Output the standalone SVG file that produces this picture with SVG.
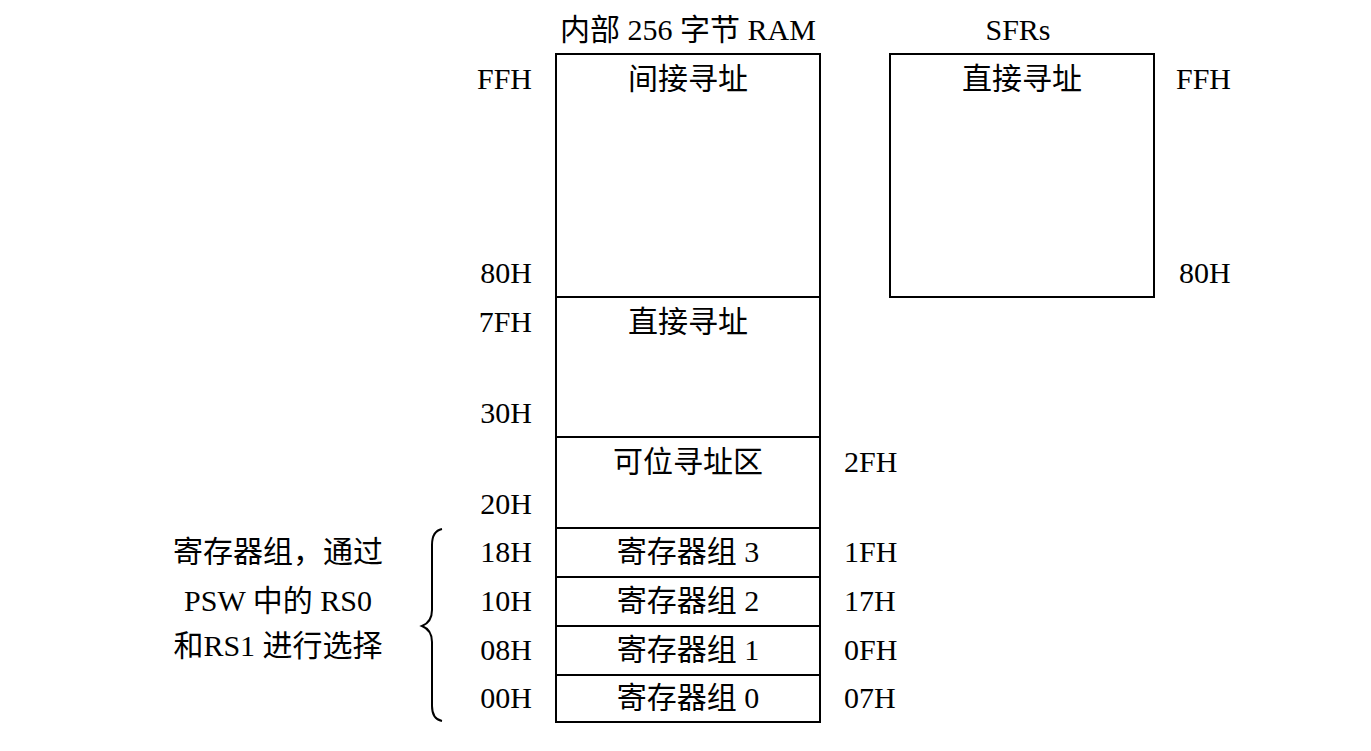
<svg xmlns="http://www.w3.org/2000/svg" width="1371" height="751" viewBox="0 0 1371 751">
<style>
text{font-family:"Liberation Serif","Noto Sans CJK SC",serif;font-size:30px;fill:#000}
.e{text-anchor:end}.m{text-anchor:middle}.s{text-anchor:start}
.b{fill:none;stroke:#000;stroke-width:2}
</style>
<rect width="1371" height="751" fill="#fff"/>
<g id="ram">
<rect class="b" x="556" y="54" width="264" height="668"/>
<path class="b" d="M556 297H820M556 437H820M556 528H820M556 577H820M556 626H820M556 675H820"/>
<text class="m" x="688" y="40">内部 256 字节 RAM</text>
<text class="m" x="688" y="89">间接寻址</text>
<text class="m" x="688" y="332">直接寻址</text>
<text class="m" x="688" y="472">可位寻址区</text>
<text class="m" x="688" y="562">寄存器组 3</text>
<text class="m" x="688" y="611">寄存器组 2</text>
<text class="m" x="688" y="660">寄存器组 1</text>
<text class="m" x="688" y="708">寄存器组 0</text>
</g>
<g id="sfr">
<rect class="b" x="890" y="54" width="264" height="243"/>
<text class="m" x="1018" y="40">SFRs</text>
<text class="m" x="1022" y="89">直接寻址</text>
<text class="s" x="1176" y="89">FFH</text>
<text class="s" x="1179" y="283">80H</text>
</g>
<g id="addr">
<text class="e" x="532" y="89">FFH</text>
<text class="e" x="532" y="283">80H</text>
<text class="e" x="532" y="332">7FH</text>
<text class="e" x="532" y="423">30H</text>
<text class="e" x="532" y="514">20H</text>
<text class="e" x="532" y="562">18H</text>
<text class="e" x="532" y="611">10H</text>
<text class="e" x="532" y="660">08H</text>
<text class="e" x="532" y="708">00H</text>
<text class="s" x="844" y="472">2FH</text>
<text class="s" x="844" y="562">1FH</text>
<text class="s" x="844" y="611">17H</text>
<text class="s" x="844" y="660">0FH</text>
<text class="s" x="844" y="708">07H</text>
</g>
<g id="note">
<path class="b" d="M442 529Q432 531 432 545V610Q432 622 422 626Q432 630 432 642V706Q432 719 442 721"/>
<text class="m" x="278" y="562">寄存器组，通过</text>
<text class="m" x="278" y="611">PSW 中的 RS0</text>
<text class="m" x="278" y="656">和RS1 进行选择</text>
</g>
</svg>
